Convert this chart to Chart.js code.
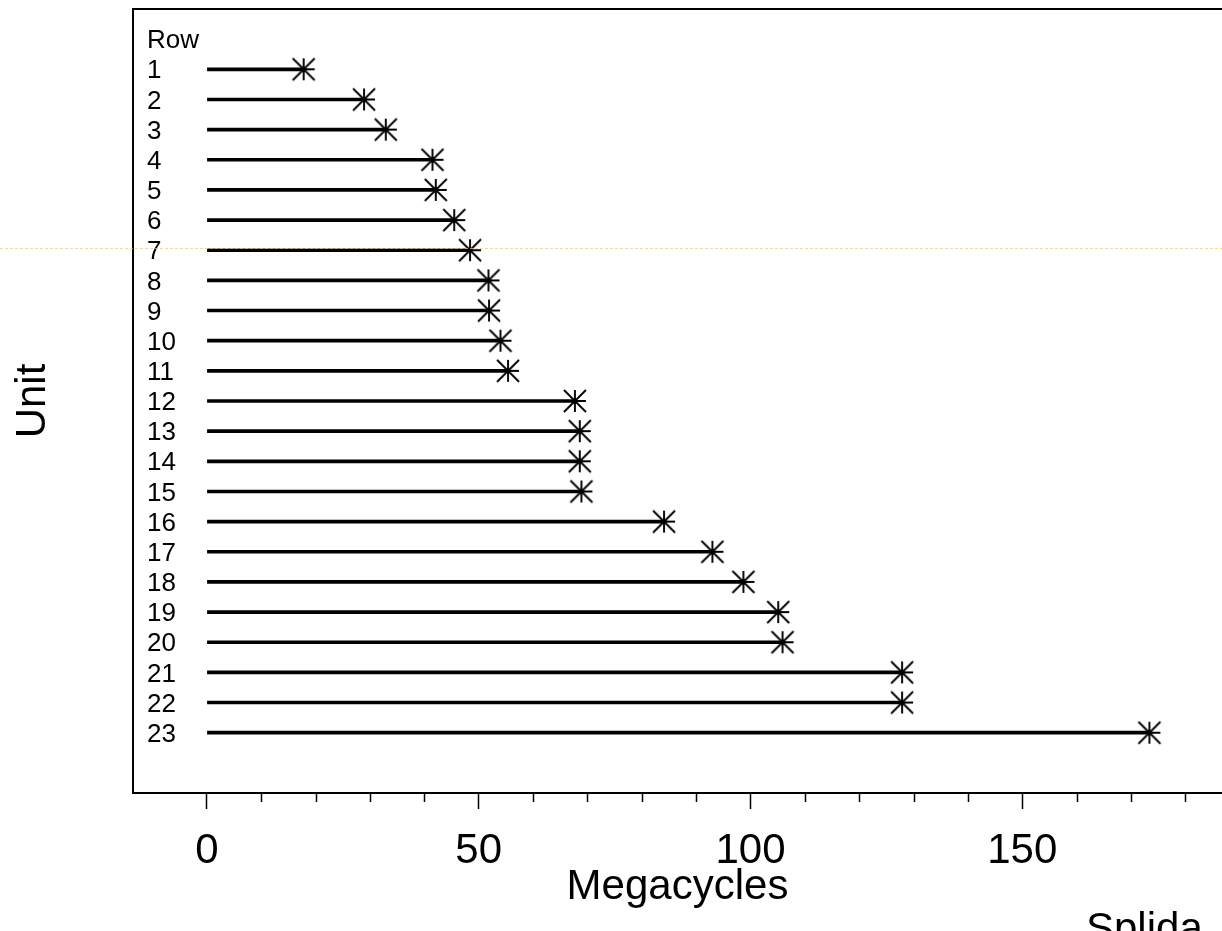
<!DOCTYPE html>
<html>
<head>
<meta charset="utf-8">
<title>Megacycles by unit</title>
<script src="https://cdn.jsdelivr.net/npm/chart.js@4.4.1/dist/chart.umd.min.js"></script>
<style>
  html, body { margin: 0; padding: 0; background: #fff; overflow: hidden; }
  canvas { display: block; }
</style>
</head>
<body>
<canvas id="myChart" width="1222" height="931"></canvas>
<script>
// Unit rows and their megacycle counts
var rowHeader = 'Row';
var rows = [1, 2, 3, 4, 5, 6, 7, 8, 9, 10, 11, 12, 13, 14, 15, 16, 17, 18, 19, 20, 21, 22, 23];
var megacycles = [17.8, 28.9, 32.9, 41.5, 42.1, 45.5, 48.4, 51.8, 51.9, 54.0, 55.4, 67.7,
                  68.6, 68.6, 68.9, 84.1, 93.0, 98.7, 105.1, 105.9, 127.9, 127.9, 173.4];
var majorTicks = [0, 50, 100, 150];
var minorStep = 10;

var FONT = "'Liberation Sans', Arial, Helvetica, sans-serif";

// asterisk marker: plus + diagonals reaching the corners
function makeStar(r) {
  var s = r * 2 + 4;
  var c = document.createElement('canvas');
  c.width = s;
  c.height = s;
  var g = c.getContext('2d');
  var m = s / 2;
  g.strokeStyle = '#000';
  g.lineWidth = 1.9;
  g.beginPath();
  g.moveTo(m - r, m); g.lineTo(m + r, m);
  g.moveTo(m, m - r); g.lineTo(m, m + r);
  g.moveTo(m - r, m - r); g.lineTo(m + r, m + r);
  g.moveTo(m - r, m + r); g.lineTo(m + r, m - r);
  g.stroke();
  return c;
}

function noPadding(scale) {
  scale.paddingLeft = 0;
  scale.paddingRight = 0;
  scale.paddingTop = 0;
  scale.paddingBottom = 0;
}

// top edge of the frame, short minor ticks, corner note and guide line
var frame = {
  id: 'frame',
  afterDraw: function (chart) {
    var ctx = chart.ctx;
    var a = chart.chartArea;
    var xs = chart.scales.x;
    ctx.save();
    ctx.strokeStyle = '#000';
    ctx.lineWidth = 2;
    ctx.beginPath();
    ctx.moveTo(a.left - 1, a.top);
    ctx.lineTo(chart.width, a.top);
    ctx.moveTo(a.right, a.bottom);
    ctx.lineTo(chart.width, a.bottom);
    ctx.stroke();

    ctx.lineWidth = 1.5;
    xs.ticks.forEach(function (t) {
      if (majorTicks.indexOf(t.value) >= 0) return;
      var px = Math.round(xs.getPixelForValue(t.value)) + 0.5;
      ctx.beginPath();
      ctx.moveTo(px, a.bottom);
      ctx.lineTo(px, a.bottom + 9);
      ctx.stroke();
    });

    ctx.font = '42px ' + FONT;
    ctx.fillStyle = '#000';
    ctx.textBaseline = 'alphabetic';
    ctx.textAlign = 'left';
    ctx.fillText('Splida', 1086, 942);

    ctx.strokeStyle = 'rgba(236, 196, 120, 0.7)';
    ctx.lineWidth = 1;
    ctx.setLineDash([3, 2]);
    ctx.beginPath();
    ctx.moveTo(0, 248.5);
    ctx.lineTo(chart.width, 248.5);
    ctx.stroke();
    ctx.restore();
  }
};

var ctx = document.getElementById('myChart');
var myChart = new Chart(ctx, {
  type: 'bar',
  data: {
    datasets: [{
      label: 'Megacycles',
      data: rows.map(function (r, i) { return { x: megacycles[i], y: r }; }),
      backgroundColor: '#000',
      borderWidth: 0,
      barThickness: 3
    }, {
      type: 'scatter',
      label: 'Megacycles',
      data: rows.map(function (r, i) { return { x: megacycles[i], y: r }; }),
      pointStyle: makeStar(11),
      // the marker image sets its own size; keep the radius tiny so no layout overflow is reserved
      pointRadius: 0.5,
      pointBorderWidth: 0,
      borderWidth: 0,
      showLine: false
    }]
  },
  options: {
    indexAxis: 'y',
    responsive: false,
    animation: false,
    devicePixelRatio: 1,
    layout: { autoPadding: false, padding: { top: 9, left: 0, right: 0, bottom: 0 } },
    plugins: {
      legend: { display: false },
      tooltip: { enabled: false }
    },
    scales: {
      x: {
        type: 'linear',
        position: 'bottom',
        min: -13.6,
        max: 186.75,
        afterBuildTicks: function (scale) {
          var t = [];
          for (var v = 0; v <= scale.max; v += minorStep) t.push({ value: v });
          scale.ticks = t;
        },
        afterFit: function (scale) {
          scale.height = 138;
          noPadding(scale);
        },
        ticks: {
          font: { family: FONT, size: 42 },
          color: '#000',
          padding: 17,
          maxRotation: 0,
          autoSkip: false,
          callback: function (v) { return majorTicks.indexOf(v) >= 0 ? String(v) : ''; }
        },
        grid: {
          drawOnChartArea: false,
          drawTicks: true,
          tickLength: 16,
          tickWidth: 1.5,
          tickColor: function (c) {
            return c.tick && majorTicks.indexOf(c.tick.value) >= 0 ? '#000' : 'rgba(0,0,0,0)';
          }
        },
        border: { display: true, color: '#000', width: 2 },
        title: {
          display: true,
          text: 'Megacycles',
          color: '#000',
          font: { family: FONT, size: 42 },
          padding: { top: 0, bottom: 18 }
        }
      },
      y: {
        type: 'linear',
        position: 'left',
        reverse: true,
        offset: false,
        min: -1,
        max: 25,
        afterBuildTicks: function (scale) {
          scale.ticks = [{ value: 0 }].concat(rows.map(function (r) { return { value: r }; }));
        },
        afterFit: function (scale) {
          scale.width = 133;
          noPadding(scale);
        },
        ticks: {
          mirror: true,
          padding: 14,
          labelOffset: 2,
          autoSkip: false,
          color: '#000',
          font: { family: FONT, size: 26 },
          callback: function (v) { return v === 0 ? rowHeader : String(v); }
        },
        grid: { offset: false, drawOnChartArea: false, drawTicks: false },
        border: { display: true, color: '#000', width: 2 },
        title: {
          display: true,
          text: 'Unit',
          color: '#000',
          font: { family: FONT, size: 42 },
          padding: { top: 8, bottom: 0 }
        }
      }
    }
  },
  plugins: [frame]
});
</script>
</body>
</html>
